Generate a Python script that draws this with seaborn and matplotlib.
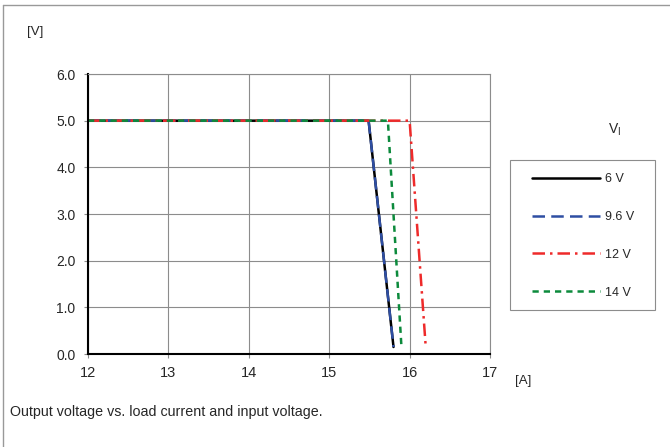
import numpy as np
import pandas as pd
import seaborn as sns
import matplotlib.pyplot as plt
from matplotlib.lines import Line2D
from matplotlib.patches import Rectangle
from matplotlib.ticker import MultipleLocator

# output voltage vs load current, one curve per input voltage
series = ["6 V", "9.6 V", "12 V", "14 V"]
current = {
    "6 V": [12.0, 15.49, 15.80],
    "9.6 V": [12.0, 15.49, 15.80],
    "12 V": [12.0, 16.0, 16.20],
    "14 V": [12.0, 15.73, 15.90],
}
voltage = {
    "6 V": [5.0, 5.0, 0.15],
    "9.6 V": [5.0, 5.0, 0.15],
    "12 V": [5.0, 5.0, 0.17],
    "14 V": [5.0, 5.0, 0.11],
}
colors = {"6 V": "#000000", "9.6 V": "#2e4ea3", "12 V": "#ee2a2a", "14 V": "#0c8a3c"}
dashes = {"6 V": "", "9.6 V": (5, 2.5), "12 V": (5, 2, 1, 2), "14 V": (2.5, 2)}

rows = []
for s in series:
    for i, (x, y) in enumerate(zip(current[s], voltage[s])):
        rows.append({"I": x, "V": y, "Vin": s, "order": i})
df = pd.DataFrame(rows)

sns.set_style("white")
plt.rcParams['font.family'] = ['Liberation Sans', 'DejaVu Sans']

fig = plt.figure(figsize=(6.7, 4.47), dpi=100)
ax = fig.add_axes([88/670, 93/447, 402/670, 280/447])

sns.lineplot(data=df, x="I", y="V", hue="Vin", style="Vin", hue_order=series,
             style_order=series, palette=colors, dashes=dashes, sort=False,
             estimator=None, units="Vin", lw=1.8, legend=False, ax=ax)

ax.set_xlim(12, 17)
ax.set_ylim(0, 6)
ax.xaxis.set_major_locator(MultipleLocator(1))
ax.yaxis.set_major_locator(MultipleLocator(1))
ax.yaxis.set_major_formatter(plt.FormatStrFormatter("%.1f"))
ax.grid(True, color="#8c8c8c", linewidth=0.8)
ax.set_axisbelow(True)
for side in ["top", "right"]:
    ax.spines[side].set_color("#8c8c8c")
    ax.spines[side].set_linewidth(0.8)
for side in ["left", "bottom"]:
    ax.spines[side].set_color("black")
    ax.spines[side].set_linewidth(1.5)
ax.tick_params(axis="both", direction="out", length=3, width=0.8, color="#8c8c8c",
               bottom=True, left=True)
ax.tick_params(axis="x", labelsize=10.5, pad=5.5)
ax.tick_params(axis="y", labelsize=10, pad=6)
ax.set_xlabel("")
ax.set_ylabel("")

fig.text(35/670, 1 - 32/447, "[V]", fontsize=9.5, ha="center", va="center")
fig.text(523/670, 1 - 381/447, "[A]", fontsize=9.5, ha="center", va="center")
fig.text(615/670, 1 - 130/447, "V$_\\mathregular{I}$", fontsize=10, ha="center", va="center")
fig.text(10/670, 1 - 412/447, "Output voltage vs. load current and input voltage.",
         fontsize=10.3, ha="left", va="center")

# legend box drawn separately, entries placed inside it
fig.add_artist(Rectangle((510/670, 1 - 310/447), 145/670, 150/447, transform=fig.transFigure,
                         facecolor="white", edgecolor="#8c8c8c", lw=0.8))
handles = [Line2D([0], [0], color=colors[s], lw=1.8,
                  linestyle=(0, dashes[s]) if dashes[s] else "-") for s in series]
leg = fig.legend(handles, series, loc="upper left",
                 bbox_to_anchor=(532/670, 1 - 173/447), frameon=False,
                 fontsize=9, handlelength=5.4, handletextpad=0.45, labelspacing=2.07,
                 borderpad=0, borderaxespad=0)

# outer frame lines of the figure image
fig.add_artist(Line2D([3/670, 1], [1 - 5/447, 1 - 5/447], color="#999999", lw=1))
fig.add_artist(Line2D([3/670, 3/670], [0, 1 - 5/447], color="#999999", lw=1))

fig.savefig("out.png", dpi=100)
